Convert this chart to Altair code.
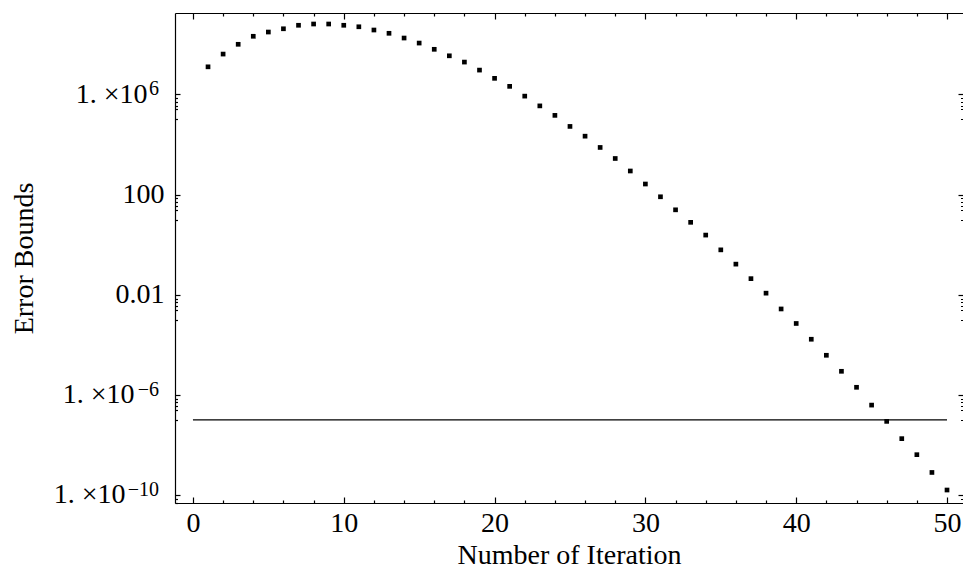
import altair as alt
import pandas as pd

# Error bound after each iteration (log-scale quantity)
iterations = list(range(1, 51))
error_bounds = [
    1.26e7, 4.07e7, 1.00e8, 2.09e8, 3.09e8, 4.17e8, 5.75e8, 6.46e8, 6.46e8, 5.75e8,
    5.01e8, 3.72e8, 2.75e8, 1.78e8, 1.12e8, 6.31e7, 3.47e7, 1.95e7, 9.33e6, 4.37e6,
    2.09e6, 8.51e5, 3.47e5, 1.45e5, 5.25e4, 2.14e4, 7.59e3, 2.75e3, 871.0, 263.0,
    81.3, 24.5, 7.76, 2.40, 0.617, 0.166, 0.0437, 0.0115, 2.69e-3, 7.08e-4,
    1.66e-4, 3.80e-5, 8.71e-6, 2.00e-6, 3.89e-7, 8.71e-8, 1.78e-8, 4.07e-9, 7.94e-10, 1.58e-10,
]

# Tolerance level drawn as a horizontal reference line
tolerance = [1e-7]
tol_from = [0]
tol_to = [50]

# Tick values
x_major = [0, 10, 20, 30, 40, 50]
x_minor = [v for v in range(2, 50, 2) if v % 10 != 0]
y_major = [1e-10, 1e-6, 0.01, 100, 1e6]
y_minor_mult = [0.7, 0.5, 0.35, 0.25, 0.1]
y_minor = [m * v for v in y_major for m in y_minor_mult if m * v > 10 ** -10.32]

# Power-of-ten tick labels: mantissa part and superscript exponent
power_ticks = [1e6, 1e-6, 1e-10]
power_exponents = ["6", "−6", "−10"]

points = pd.DataFrame({"n": iterations, "bound": error_bounds})
tol_df = pd.DataFrame({"x0": tol_from, "x1": tol_to, "tol": tolerance})
exp_df = pd.DataFrame({"tick": power_ticks, "exp": power_exponents})

FONT = "Liberation Serif"
FS = 28
EXP_FS = 20

x_scale = alt.Scale(domain=[-1.19, 51.06], nice=False, zero=False)
y_scale = alt.Scale(type="log", domain=[10 ** -10.32, 10 ** 9.25], nice=False)


def axis(**kw):
    base = dict(
        grid=False, labelFont=FONT, titleFont=FONT, labelColor="black",
        titleColor="black", tickColor="black", domainColor="black",
        domainWidth=1.2, tickWidth=1.2, titleFontWeight="normal",
    )
    base.update(kw)
    return alt.Axis(**base)


def ticks_only(orient, values, size, domain=False):
    return axis(orient=orient, values=values, tickSize=alt.ExprRef(expr=str(-size)),
                labels=False, domain=domain, title=None)


def mantissa_axis(value, padding):
    # left-side "1. ×10" label for one power tick, leaving room for its exponent
    return axis(orient="left", values=[value], ticks=False, domain=False,
                labelExpr="'1. ×10'", labelFontSize=FS, labelPadding=padding,
                title=None)


dots = alt.Chart(points).mark_square(size=22, color="black", opacity=1).encode(
    x=alt.X("n:Q", scale=x_scale, axis=axis(
        orient="bottom", values=x_major, tickSize=alt.ExprRef(expr="-6"),
        format="d", labelFontSize=FS, labelPadding=12,
        title="Number of Iteration", titleFontSize=FS, titleY=52,
        titleBaseline="middle")),
    y=alt.Y("bound:Q", scale=y_scale, axis=axis(
        orient="left", values=y_major, tickSize=alt.ExprRef(expr="-5"),
        labelExpr="datum.value == 100 ? '100' : datum.value == 0.01 ? '0.01' : ''",
        labelFontSize=FS, labelPadding=16,
        title="Error Bounds", titleFontSize=FS, titleAngle=-90, titleX=-151,
        titleY=245, titleAlign="center", titleBaseline="middle")),
)

tol_line = alt.Chart(tol_df).mark_rule(color="black", strokeWidth=1.2).encode(
    x=alt.X("x0:Q", scale=x_scale, axis=ticks_only("bottom", x_minor, 3)),
    x2="x1:Q",
    y=alt.Y("tol:Q", scale=y_scale, axis=ticks_only("left", y_minor, 2.5)),
)

frame_major = alt.Chart(points).mark_square(opacity=0).encode(
    x=alt.X("n:Q", scale=x_scale, axis=ticks_only("top", x_major, 6, domain=True)),
    y=alt.Y("bound:Q", scale=y_scale, axis=ticks_only("right", y_major, 5)),
)

frame_minor = alt.Chart(points).mark_square(opacity=0).encode(
    x=alt.X("n:Q", scale=x_scale, axis=ticks_only("top", x_minor, 3)),
    y=alt.Y("bound:Q", scale=y_scale, axis=ticks_only("right", y_minor, 2.5)),
)

# superscript exponents next to the "1. ×10" mantissas
exponents = alt.Chart(exp_df).mark_text(
    align="right", baseline="alphabetic", font=FONT, fontSize=EXP_FS,
    color="black", dy=1,
).encode(
    x=alt.value(-16),
    y=alt.Y("tick:Q", scale=y_scale, axis=mantissa_axis(1e6, 28)),
    text="exp:N",
)

mant_b = alt.Chart(exp_df).mark_point(opacity=0).encode(
    y=alt.Y("tick:Q", scale=y_scale, axis=mantissa_axis(1e-6, 41)),
)
mant_c = alt.Chart(exp_df).mark_point(opacity=0).encode(
    y=alt.Y("tick:Q", scale=y_scale, axis=mantissa_axis(1e-10, 50)),
)

chart = (
    alt.layer(tol_line, dots, frame_major, frame_minor, exponents, mant_b, mant_c)
    .resolve_axis(x="independent", y="independent")
    .properties(
        width=788, height=490,
        autosize=alt.AutoSizeParams(type="none"),
        padding={"left": 175, "top": 13, "right": 0, "bottom": 68},
        background="white",
    )
    .configure_view(strokeWidth=0)
)

chart.save("out.html", embed_options={"renderer": "svg", "actions": False})
